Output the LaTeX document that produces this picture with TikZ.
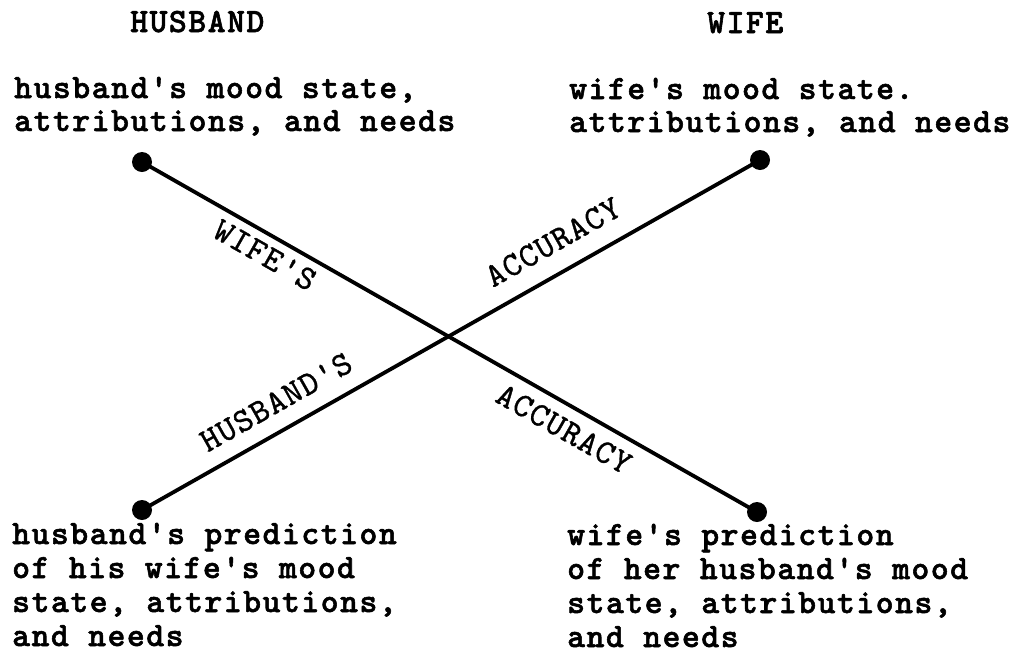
\documentclass[tikz,border=0pt]{standalone}
\usepackage{fontspec}
\newfontfamily\courb{lmmonolt10-bold}[Extension=.otf,LetterSpace=4.5,FakeBold=1.6]
\newfontfamily\courl{lmmono10-regular}[Extension=.otf,LetterSpace=3,FakeBold=1.0]
\begin{document}
\begin{tikzpicture}[x=1pt,y=-1pt,
  txt/.style={anchor=base west,inner sep=0pt,font=\courb\fontsize{34}{34}\selectfont},
  lbl/.style={anchor=center,inner sep=0pt,font=\courl\fontsize{34}{34}\selectfont},
  dot/.style={circle,fill=black,inner sep=0pt,minimum size=20pt},
  conn/.style={draw=black,line width=3.8pt}]
\useasboundingbox (0,0) rectangle (1024,654);
% headers
\node[txt] (hh) at (130,32) {HUSBAND};
\node[txt] (hw) at (707,33) {WIFE};
% top-left block
\node[txt] (tl1) at (14,98) {husband's mood state,};
\node[txt] (tl2) at (14,131) {attributions, and needs};
% top-right block
\node[txt] (tr1) at (569,99) {wife's mood state.};
\node[txt] (tr2) at (569,132) {attributions, and needs};
% bottom-left block
\node[txt] (bl1) at (12,544) {husband's prediction};
\node[txt] (bl2) at (12,578) {of his wife's mood};
\node[txt] (bl3) at (12,612) {state, attributions,};
\node[txt] (bl4) at (12,646) {and needs};
% bottom-right block
\node[txt] (br1) at (567,545) {wife's prediction};
\node[txt] (br2) at (567,579) {of her husband's mood};
\node[txt] (br3) at (567,613) {state, attributions,};
\node[txt] (br4) at (567,647) {and needs};
% dots
\node[dot] (tl) at (142,162) {};
\node[dot] (tr) at (760,160) {};
\node[dot] (bl) at (142,510) {};
\node[dot] (br) at (757,512) {};
% connectors
\draw[conn] (tl.center) -- (br.center);
\draw[conn] (bl.center) -- (tr.center);
% line labels
\node[lbl,rotate=-29.6] (l1) at (265,255) {WIFE'S};
\node[lbl,rotate=29.5] (l2) at (553,242) {ACCURACY};
\node[lbl,rotate=29.5] (l3) at (276,402) {HUSBAND'S};
\node[lbl,rotate=-29.6] (l4) at (564,429) {ACCURACY};
\end{tikzpicture}
\end{document}
